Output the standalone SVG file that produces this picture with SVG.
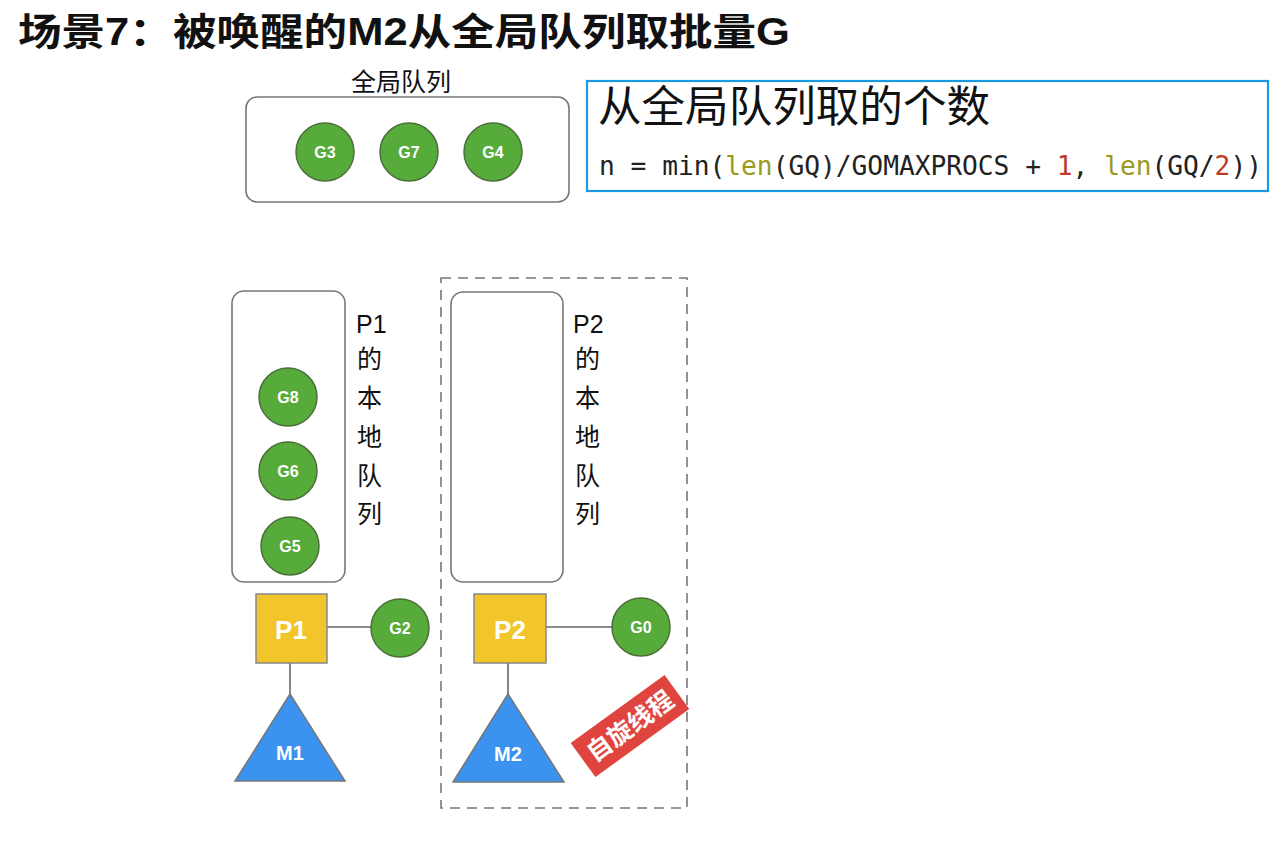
<svg xmlns="http://www.w3.org/2000/svg" width="1271" height="848" viewBox="0 0 1271 848">
<style>
.title{font-family:"Liberation Sans","Noto Sans CJK SC",sans-serif;font-weight:bold;font-size:38px;fill:#111}
.cjk{font-family:"Liberation Sans","Noto Sans CJK SC",sans-serif;fill:#111}
.queue{fill:#fff;stroke:#777;stroke-width:1.6}
.g circle{fill:#56ab3a;stroke:#4b6e3a;stroke-width:1.5}
.glabel{font-family:"Liberation Sans",Arial,sans-serif;font-weight:bold;font-size:16px;fill:#fff;text-anchor:middle}
.plabel{font-family:"Liberation Sans",Arial,sans-serif;font-weight:bold;font-size:26px;fill:#fff;text-anchor:middle}
.mlabel{font-family:"Liberation Sans",Arial,sans-serif;font-weight:bold;font-size:20px;fill:#fff;text-anchor:middle}
.p{fill:#f2c52a;stroke:#888;stroke-width:1.5}
.m{fill:#3b93ef;stroke:#777;stroke-width:1.5}
.conn line{stroke:#666;stroke-width:1.6}
.vert{font-family:"Liberation Sans","Noto Sans CJK SC",sans-serif;font-size:25px;fill:#111}
.code{font-family:"DejaVu Sans Mono","Liberation Mono",monospace;font-size:26px;fill:#222}
.kw{fill:#9a9a1a}
.num{fill:#c0392b}
</style>

<text class="title" x="18" y="45" textLength="772" lengthAdjust="spacingAndGlyphs">场景7：被唤醒的M2从全局队列取批量G</text>

<g id="global-queue">
  <text class="cjk" x="401" y="91" font-size="25" text-anchor="middle">全局队列</text>
  <rect class="queue" x="246" y="97" width="323" height="105" rx="11"/>
</g>
<g id="G3" class="g"><circle cx="325" cy="152" r="29"/><text class="glabel" x="325" y="158">G3</text></g>
<g id="G7" class="g"><circle cx="409" cy="152" r="29"/><text class="glabel" x="409" y="158">G7</text></g>
<g id="G4" class="g"><circle cx="493" cy="152" r="29"/><text class="glabel" x="493" y="158">G4</text></g>

<g id="formula">
  <rect x="587" y="81" width="681" height="110" fill="#fff" stroke="#1a9be0" stroke-width="2.2"/>
  <text class="cjk" x="598" y="122" font-size="43" textLength="392" lengthAdjust="spacingAndGlyphs">从全局队列取的个数</text>
  <text class="code" x="599" y="175" textLength="663" lengthAdjust="spacingAndGlyphs">n = min(<tspan class="kw">len</tspan>(GQ)/GOMAXPROCS + <tspan class="num">1</tspan>, <tspan class="kw">len</tspan>(GQ/<tspan class="num">2</tspan>))</text>
</g>

<g id="spin-area">
  <rect x="441" y="278" width="246" height="530" fill="none" stroke="#777" stroke-width="1.6" stroke-dasharray="10,7"/>
</g>

<g id="p1-local-queue">
  <rect class="queue" x="232" y="291" width="113" height="291" rx="12"/>
  <text class="vert" x="356" y="333">P1</text>
  <text class="vert" x="357" y="368">的</text>
  <text class="vert" x="357" y="407">本</text>
  <text class="vert" x="357" y="446">地</text>
  <text class="vert" x="357" y="485">队</text>
  <text class="vert" x="357" y="523">列</text>
</g>
<g id="G8" class="g"><circle cx="288" cy="397" r="29"/><text class="glabel" x="288" y="403">G8</text></g>
<g id="G6" class="g"><circle cx="288" cy="471" r="29"/><text class="glabel" x="288" y="477">G6</text></g>
<g id="G5" class="g"><circle cx="290" cy="546" r="29"/><text class="glabel" x="290" y="552">G5</text></g>

<g id="p2-local-queue">
  <rect class="queue" x="451" y="292" width="112" height="290" rx="12"/>
  <text class="vert" x="573" y="333">P2</text>
  <text class="vert" x="575" y="368">的</text>
  <text class="vert" x="575" y="407">本</text>
  <text class="vert" x="575" y="446">地</text>
  <text class="vert" x="575" y="485">队</text>
  <text class="vert" x="575" y="523">列</text>
</g>

<g id="connectors" class="conn">
  <line x1="327" y1="627" x2="371" y2="627"/>
  <line x1="290" y1="663" x2="290" y2="694"/>
  <line x1="546" y1="627" x2="612" y2="627"/>
  <line x1="508" y1="663" x2="508" y2="694"/>
</g>

<g id="P1"><rect class="p" x="256" y="594" width="71" height="69"/><text class="plabel" x="291" y="639">P1</text></g>
<g id="G2" class="g"><circle cx="400" cy="628" r="29"/><text class="glabel" x="400" y="634">G2</text></g>
<g id="M1"><polygon class="m" points="290,694 345,781 235,781"/><text class="mlabel" x="290" y="760">M1</text></g>

<g id="P2"><rect class="p" x="474" y="594" width="72" height="69"/><text class="plabel" x="510" y="639">P2</text></g>
<g id="G0" class="g"><circle cx="641" cy="627" r="29"/><text class="glabel" x="641" y="633">G0</text></g>
<g id="M2"><polygon class="m" points="508,694 564,782 453,782"/><text class="mlabel" x="508" y="761">M2</text></g>

<g id="spin-label" transform="translate(630,726) rotate(-36)">
  <rect x="-58" y="-21" width="116" height="42" fill="#e0443f"/>
  <text x="0" y="9" font-family="'Noto Sans CJK SC',sans-serif" font-weight="bold" font-size="25" fill="#fff" text-anchor="middle">自旋线程</text>
</g>
</svg>
